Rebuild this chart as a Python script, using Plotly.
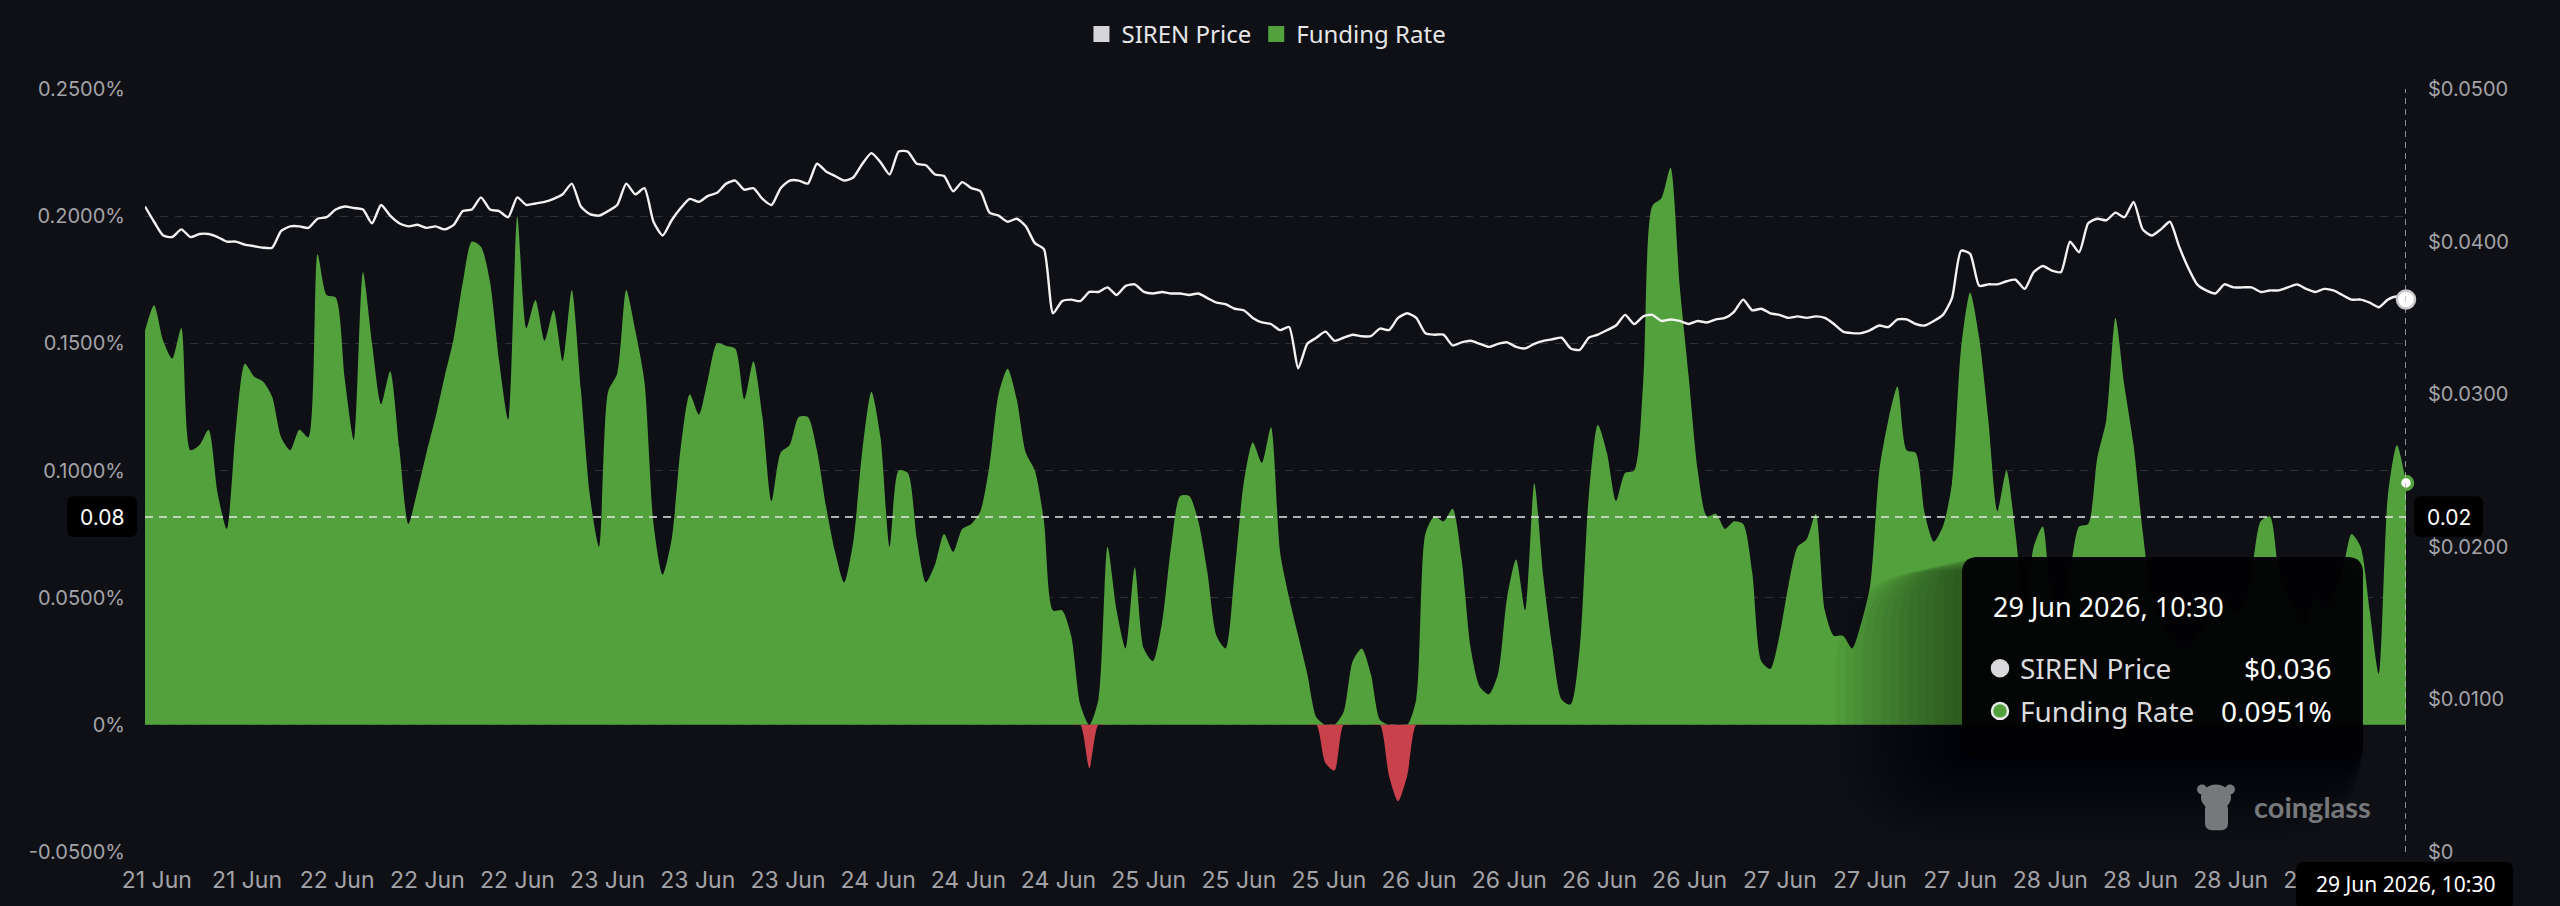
import plotly.graph_objects as go

# ---------------- data ----------------
funding_rate = [  # percent
    0.155, 0.165, 0.151, 0.144, 0.156, 0.108, 0.110, 0.116, 0.091, 0.077,
    0.116, 0.142, 0.137, 0.135, 0.129, 0.113, 0.108, 0.116, 0.113, 0.185,
    0.169, 0.168, 0.136, 0.112, 0.178, 0.150, 0.126, 0.139, 0.109, 0.079,
    0.092, 0.107, 0.121, 0.137, 0.152, 0.174, 0.190, 0.188, 0.174, 0.143,
    0.120, 0.200, 0.156, 0.167, 0.151, 0.163, 0.143, 0.171, 0.132, 0.090,
    0.070, 0.131, 0.138, 0.171, 0.155, 0.135, 0.079, 0.059, 0.073, 0.109,
    0.130, 0.122, 0.136, 0.150, 0.149, 0.148, 0.128, 0.143, 0.121, 0.088,
    0.107, 0.110, 0.121, 0.121, 0.108, 0.086, 0.068, 0.056, 0.072, 0.108,
    0.131, 0.113, 0.070, 0.100, 0.099, 0.073, 0.056, 0.063, 0.075, 0.068,
    0.077, 0.079, 0.084, 0.102, 0.130, 0.140, 0.128, 0.107, 0.100, 0.080,
    0.045, 0.045, 0.035, 0.008, -0.017, 0.010, 0.070, 0.045, 0.030, 0.062,
    0.030, 0.025, 0.040, 0.070, 0.090, 0.090, 0.080, 0.060, 0.035, 0.030,
    0.060, 0.095, 0.111, 0.103, 0.117, 0.068, 0.050, 0.035, 0.020, 0.003,
    -0.015, -0.018, 0.005, 0.025, 0.030, 0.020, 0.002, -0.020, -0.030, -0.020,
    0.010, 0.075, 0.082, 0.080, 0.085, 0.065, 0.030, 0.015, 0.012, 0.020,
    0.050, 0.065, 0.045, 0.095, 0.058, 0.030, 0.010, 0.008, 0.030, 0.090,
    0.118, 0.107, 0.088, 0.099, 0.100, 0.135, 0.204, 0.207, 0.219, 0.173,
    0.137, 0.100, 0.082, 0.083, 0.077, 0.080, 0.079, 0.060, 0.025, 0.022,
    0.035, 0.055, 0.070, 0.073, 0.083, 0.045, 0.035, 0.035, 0.030, 0.040,
    0.055, 0.100, 0.120, 0.133, 0.108, 0.107, 0.083, 0.072, 0.078, 0.095,
    0.148, 0.170, 0.152, 0.120, 0.084, 0.100, 0.075, 0.045, 0.070, 0.078,
    0.050, 0.045, 0.060, 0.078, 0.079, 0.105, 0.120, 0.160, 0.133, 0.110,
    0.076, 0.050, 0.040, 0.035, 0.030, 0.030, 0.035, 0.040, 0.045, 0.050,
    0.045, 0.045, 0.060, 0.080, 0.082, 0.060, 0.050, 0.045, 0.040, 0.050,
    0.045, 0.050, 0.060, 0.075, 0.070, 0.045, 0.020, 0.090, 0.110, 0.0951,
]

siren_price = [  # USD
    0.0423, 0.0413, 0.0404, 0.0403, 0.0408, 0.0403, 0.0405, 0.0405, 0.0403, 0.0400,
    0.0400, 0.0398, 0.0397, 0.0396, 0.0396, 0.0407, 0.0410, 0.0410, 0.0409, 0.0415,
    0.0416, 0.0421, 0.0423, 0.0422, 0.0421, 0.0412, 0.0424, 0.0417, 0.0412, 0.0410,
    0.0411, 0.0409, 0.0410, 0.0408, 0.0411, 0.0420, 0.0421, 0.0429, 0.0421, 0.0420,
    0.0416, 0.0429, 0.0424, 0.0425, 0.0426, 0.0428, 0.0431, 0.0438, 0.0423, 0.0418,
    0.0417, 0.0420, 0.0424, 0.0438, 0.0431, 0.0435, 0.0413, 0.0404, 0.0414, 0.0422,
    0.0428, 0.0426, 0.0430, 0.0432, 0.0438, 0.0440, 0.0434, 0.0435, 0.0428, 0.0424,
    0.0435, 0.0440, 0.0440, 0.0438, 0.0451, 0.0446, 0.0443, 0.0440, 0.0442, 0.0451,
    0.0458, 0.0452, 0.0444, 0.0459, 0.0459, 0.0451, 0.0450, 0.0444, 0.0443, 0.0433,
    0.0439, 0.0435, 0.0433, 0.0419, 0.0417, 0.0413, 0.0415, 0.0410, 0.0399, 0.0395,
    0.0353, 0.0361, 0.0362, 0.0361, 0.0367, 0.0367, 0.0370, 0.0365, 0.0371, 0.0372,
    0.0367, 0.0366, 0.0367, 0.0366, 0.0366, 0.0365, 0.0366, 0.0363, 0.0360, 0.0359,
    0.0356, 0.0355, 0.0350, 0.0347, 0.0346, 0.0342, 0.0344, 0.0317, 0.0333, 0.0337,
    0.0341, 0.0335, 0.0337, 0.0339, 0.0338, 0.0338, 0.0343, 0.0342, 0.0350, 0.0353,
    0.0350, 0.0340, 0.0339, 0.0339, 0.0332, 0.0334, 0.0335, 0.0333, 0.0331, 0.0333,
    0.0334, 0.0331, 0.0330, 0.0333, 0.0335, 0.0336, 0.0337, 0.0330, 0.0329, 0.0337,
    0.0339, 0.0342, 0.0345, 0.0352, 0.0346, 0.0351, 0.0352, 0.0348, 0.0349, 0.0348,
    0.0346, 0.0348, 0.0347, 0.0349, 0.0350, 0.0354, 0.0362, 0.0355, 0.0356, 0.0353,
    0.0352, 0.0350, 0.0351, 0.0350, 0.0351, 0.0350, 0.0346, 0.0341, 0.0340, 0.0340,
    0.0342, 0.0345, 0.0344, 0.0349, 0.0349, 0.0346, 0.0345, 0.0348, 0.0352, 0.0363,
    0.0394, 0.0392, 0.0371, 0.0372, 0.0372, 0.0374, 0.0375, 0.0369, 0.0380, 0.0384,
    0.0381, 0.0380, 0.0400, 0.0393, 0.0412, 0.0415, 0.0414, 0.0419, 0.0416, 0.0426,
    0.0408, 0.0404, 0.0408, 0.0413, 0.0397, 0.0383, 0.0372, 0.0368, 0.0366, 0.0372,
    0.0370, 0.0370, 0.0370, 0.0367, 0.0368, 0.0368, 0.0370, 0.0372, 0.0369, 0.0367,
    0.0369, 0.0368, 0.0365, 0.0362, 0.0362, 0.0360, 0.0357, 0.0362, 0.0364, 0.0362,
]

x_tick_labels = ["21 Jun", "21 Jun", "22 Jun", "22 Jun", "22 Jun", "23 Jun", "23 Jun",
                 "23 Jun", "24 Jun", "24 Jun", "24 Jun", "25 Jun", "25 Jun", "25 Jun",
                 "26 Jun", "26 Jun", "26 Jun", "26 Jun", "27 Jun", "27 Jun", "27 Jun",
                 "28 Jun", "28 Jun", "28 Jun", "29 Jun"]
funding_ticks = [-0.05, 0.0, 0.05, 0.10, 0.15, 0.20, 0.25]
funding_tick_text = ["-0.0500%", "0%", "0.0500%", "0.1000%", "0.1500%", "0.2000%", "0.2500%"]
price_ticks = [0.0, 0.01, 0.02, 0.03, 0.04, 0.05]
price_tick_text = ["$0", "$0.0100", "$0.0200", "$0.0300", "$0.0400", "$0.0500"]
last_time_label = "29 Jun 2026, 10:30"
crosshair_funding = 0.0817

# ---------------- layout constants ----------------
W, H = 2560, 906
ML, MR, MT, MB = 145, 154, 86, 52
PW, PH = W - ML - MR, H - MT - MB
BG = "#0f1015"
GREEN = "#52a13d"
RED = "#c8414b"
GRID = "#2e3036"
TICK = "#a3a3a8"
F_RANGE = [-0.05, 0.25]
P_RANGE = [0.0, 0.05]

n = len(funding_rate)
xs = list(range(n))
tick_first, tick_step = 1.3, 9.93
tickvals = [tick_first + tick_step * k for k in range(len(x_tick_labels))]

pos = [max(v, 0.0) for v in funding_rate]
neg = [min(v, 0.0) for v in funding_rate]


def px(xp):
    return (xp - ML) / PW


def py(yp):
    return (H - MB - yp) / PH


def rrect(x0, y0, x1, y1, r):
    X0, X1, Yt, Yb = px(x0), px(x1), py(y0), py(y1)
    rx, ry = r / PW, r / PH
    return (f"M {X0+rx},{Yt} L {X1-rx},{Yt} Q {X1},{Yt} {X1},{Yt-ry} "
            f"L {X1},{Yb+ry} Q {X1},{Yb} {X1-rx},{Yb} L {X0+rx},{Yb} "
            f"Q {X0},{Yb} {X0},{Yb+ry} L {X0},{Yt-ry} Q {X0},{Yt} {X0+rx},{Yt} Z")


fig = go.Figure()

fig.add_trace(go.Scatter(x=xs, y=pos, mode="lines", fill="tozeroy", fillcolor=GREEN,
                         line=dict(width=0, shape="spline", smoothing=0.7, color=GREEN),
                         showlegend=False, hoverinfo="skip", yaxis="y"))
fig.add_trace(go.Scatter(x=xs, y=neg, mode="lines", fill="tozeroy", fillcolor=RED,
                         line=dict(width=0, shape="spline", smoothing=0.7, color=RED),
                         showlegend=False, hoverinfo="skip", yaxis="y"))
fig.add_trace(go.Scatter(x=xs, y=siren_price, mode="lines",
                         line=dict(width=2.4, color="#f2f2f2", shape="spline", smoothing=0.6),
                         showlegend=False, hoverinfo="skip", yaxis="y2"))

# last point markers
fig.add_trace(go.Scatter(x=[n - 1], y=[funding_rate[-1]], mode="markers", yaxis="y",
                         marker=dict(size=13, color="#ffffff", line=dict(color=GREEN, width=3.5)),
                         showlegend=False, hoverinfo="skip", cliponaxis=False))
fig.add_trace(go.Scatter(x=[n - 1], y=[siren_price[-1]], mode="markers", yaxis="y2",
                         marker=dict(size=18, color="#ffffff", line=dict(color="#c9c9cc", width=2.5)),
                         showlegend=False, hoverinfo="skip", cliponaxis=False))

# legend entries (square swatches)
fig.add_trace(go.Scatter(x=[None], y=[None], mode="markers", name="SIREN Price",
                         marker=dict(symbol="square", size=17, color="#d6d6d8")))
fig.add_trace(go.Scatter(x=[None], y=[None], mode="markers", name="Funding Rate",
                         marker=dict(symbol="square", size=17, color=GREEN)))

font_axis = "Inter, Roboto, sans-serif"
font_ui = "Noto Sans, Open Sans, sans-serif"

fig.update_layout(
    width=W, height=H,
    paper_bgcolor=BG, plot_bgcolor=BG,
    margin=dict(l=ML, r=MR, t=MT, b=MB, pad=0),
    showlegend=True,
    legend=dict(orientation="h", x=0.496, xanchor="center", y=py(31), yanchor="middle",
                font=dict(family=font_ui, size=24, color="#e6e6e8"),
                bgcolor="rgba(0,0,0,0)", itemwidth=30, tracegroupgap=0),
    xaxis=dict(range=[0, n - 1], showgrid=False, zeroline=False, showline=False,
               tickvals=tickvals, ticktext=x_tick_labels, ticks="",
               tickfont=dict(family=font_axis, size=23, color=TICK),
               ticklabelstandoff=12, fixedrange=True),
    yaxis=dict(range=F_RANGE, tickvals=funding_ticks, ticktext=funding_tick_text,
               showgrid=True, gridcolor=GRID, griddash="8px,7px", gridwidth=1.2,
               zeroline=False, showline=False, ticks="",
               tickfont=dict(family=font_axis, size=20, color=TICK),
               ticklabelstandoff=19),
    yaxis2=dict(range=P_RANGE, overlaying="y", side="right", tickvals=price_ticks,
                ticktext=price_tick_text, showgrid=False, zeroline=False, showline=False,
                ticks="", tickfont=dict(family=font_axis, size=20, color=TICK),
                ticklabelstandoff=21),
)

shapes = []
annotations = []

# crosshair lines
shapes.append(dict(type="line", xref="x", yref="paper", x0=n - 1, x1=n - 1, y0=0, y1=1,
                   line=dict(color="#b8b8bc", width=1.5, dash="6px,5px"), layer="above"))
shapes.append(dict(type="line", xref="paper", yref="y", x0=0, x1=1,
                   y0=crosshair_funding, y1=crosshair_funding,
                   line=dict(color="#e6e6e6", width=1.6, dash="8px,6px"), layer="above"))

# crosshair value labels
cross_price = P_RANGE[0] + (crosshair_funding - F_RANGE[0]) / (F_RANGE[1] - F_RANGE[0]) * (P_RANGE[1] - P_RANGE[0])
cross_y = MT + (F_RANGE[1] - crosshair_funding) / (F_RANGE[1] - F_RANGE[0]) * PH
for (x0, x1, txt) in [(67, 137, f"{crosshair_funding:.2f}"), (2414, 2483, f"{cross_price:.2f}")]:
    shapes.append(dict(type="path", xref="paper", yref="paper", path=rrect(x0, cross_y - 21, x1, cross_y + 20, 7),
                       fillcolor="#000000", line=dict(width=0), layer="above"))
    annotations.append(dict(xref="paper", yref="paper", x=px((x0 + x1) / 2), y=py(cross_y),
                            text=txt, showarrow=False, xanchor="center", yanchor="middle",
                            font=dict(family=font_axis, size=21, color="#ffffff")))

# bottom time label
shapes.append(dict(type="path", xref="paper", yref="paper", path=rrect(2296, 864, 2513, 912, 8),
                   fillcolor="#000000", line=dict(width=0), layer="above"))
annotations.append(dict(xref="paper", yref="paper", x=px(2405), y=py(886), text=last_time_label,
                        showarrow=False, xanchor="center", yanchor="middle",
                        font=dict(family=font_ui, size=21, color="#ffffff")))

# tooltip soft shadow (spreading left / down)
for k in range(14, 0, -1):
    shapes.append(dict(type="path", xref="paper", yref="paper",
                       path=rrect(1962 - 9 * k, 557 + 1 * k, 2363, 758 + 6 * k, 18 + 6 * k),
                       fillcolor="rgba(0,0,0,0.035)", line=dict(width=0), layer="above"))
# tooltip
shapes.append(dict(type="path", xref="paper", yref="paper", path=rrect(1962, 557, 2363, 758, 16),
                   fillcolor="rgba(2,2,4,0.97)", line=dict(width=0), layer="above"))
annotations.append(dict(xref="paper", yref="paper", x=px(1991), y=py(607), text=last_time_label,
                        showarrow=False, xanchor="left", yanchor="middle",
                        font=dict(family=font_ui, size=27, color="#ffffff")))
rows = [("SIREN Price", f"${siren_price[-1]:.3f}", 669, "#d9d9dc", "#d9d9dc"),
        ("Funding Rate", f"{funding_rate[-1]:.4f}%", 712, GREEN, "#e8e8e8")]
for label, val, yy, fillc, linec in rows:
    shapes.append(dict(type="circle", xref="paper", yref="paper",
                       x0=px(2000 - 8), x1=px(2000 + 8), y0=py(yy + 8), y1=py(yy - 8),
                       fillcolor=fillc, line=dict(color=linec, width=2.5), layer="above"))
    annotations.append(dict(xref="paper", yref="paper", x=px(2018), y=py(yy), text=label,
                            showarrow=False, xanchor="left", yanchor="middle",
                            font=dict(family=font_ui, size=28, color="#dcdcde")))
    annotations.append(dict(xref="paper", yref="paper", x=px(2334), y=py(yy), text=val,
                            showarrow=False, xanchor="right", yanchor="middle",
                            font=dict(family=font_ui, size=28, color="#ffffff")))

# watermark
WM = "#77787c"
shapes.append(dict(type="circle", xref="paper", yref="paper", x0=px(2201), x1=px(2231),
                   y0=py(812), y1=py(786), fillcolor=WM, line=dict(width=0), layer="above"))
shapes.append(dict(type="circle", xref="paper", yref="paper", x0=px(2197), x1=px(2207),
                   y0=py(796), y1=py(786), fillcolor=WM, line=dict(width=0), layer="above"))
shapes.append(dict(type="circle", xref="paper", yref="paper", x0=px(2225), x1=px(2235),
                   y0=py(796), y1=py(786), fillcolor=WM, line=dict(width=0), layer="above"))
shapes.append(dict(type="path", xref="paper", yref="paper", path=rrect(2205, 804, 2228, 832, 7),
                   fillcolor=WM, line=dict(width=0), layer="above"))
annotations.append(dict(xref="paper", yref="paper", x=px(2252), y=py(808), text="<b>coinglass</b>",
                        showarrow=False, xanchor="left", yanchor="middle",
                        font=dict(family="Lato, Noto Sans, sans-serif", size=29, color=WM)))

fig.update_layout(shapes=shapes, annotations=annotations)

fig.write_html("out.html")
